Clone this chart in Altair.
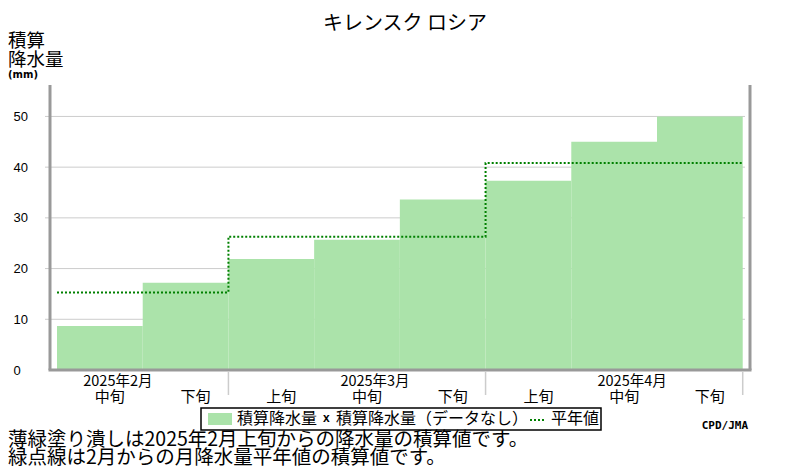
import altair as alt
import pandas as pd

# ---- data ----
title_text = "キレンスク ロシア"
decades = ["中旬", "下旬", "上旬", "中旬", "下旬", "上旬", "中旬", "下旬"]
months = ["2025年2月", "2025年3月", "2025年4月"]
month_pos = [0, 3, 6]
month_bounds = [2, 5, 8]
accum = [8.7, 17.2, 21.9, 25.7, 33.6, 37.3, 45.0, 50.0]
normal_x = [0, 2, 5, 8]
normal_y = [15.3, 26.3, 40.8, 40.8]
y_ticks = [0, 10, 20, 30, 40, 50]
grid_vals = [10, 20, 30, 40, 50]
note1 = "薄緑塗り潰しは2025年2月上旬からの降水量の積算値です。"
note2 = "緑点線は2月からの月降水量平年値の積算値です。"

FONT = "Noto Sans CJK JP"
W, H = 700, 285
xs = alt.Scale(domain=[-0.0817, 8.085], nice=False, zero=False)
ys = alt.Scale(domain=[0, 56.2], nice=False, zero=False)
yaxis = alt.Axis(values=y_ticks, grid=False, domain=False, ticks=False,
                 labelAlign="left", labelBaseline="middle", labelPadding=37,
                 labelFont="Liberation Sans", labelFontSize=13, labelColor="black", title=None)
one = pd.DataFrame({"a": [0]})

grid = alt.Chart(pd.DataFrame({"g": grid_vals})).mark_rule(color="#cccccc", strokeWidth=1).encode(
    y=alt.Y("g:Q", scale=ys, axis=yaxis), x=alt.value(-5), x2=alt.value(695))

bars_df = pd.DataFrame({"i0": list(range(8)), "i1": [i + 1 for i in range(8)], "v": accum, "b": [0] * 8})
bars = alt.Chart(bars_df).mark_rect(color="#abe3aa").encode(
    x=alt.X("i0:Q", scale=xs, axis=None), x2="i1",
    y=alt.Y("v:Q", scale=ys, axis=yaxis), y2="b")

norm = alt.Chart(pd.DataFrame({"x": normal_x, "y": normal_y})).mark_line(
    interpolate="step-after", color="#008000", strokeWidth=2, strokeDash=[2, 2]).encode(
    x=alt.X("x:Q", scale=xs, axis=None), y=alt.Y("y:Q", scale=ys, axis=yaxis))

fr = dict(color="#999999", strokeWidth=3)
frame_l = alt.Chart(one).mark_rule(**fr).encode(x=alt.value(0), y=alt.value(0), y2=alt.value(H))
frame_r = alt.Chart(one).mark_rule(**fr).encode(x=alt.value(W), y=alt.value(0), y2=alt.value(H))
frame_b = alt.Chart(one).mark_rule(**fr).encode(x=alt.value(-1.5), x2=alt.value(W + 1.5), y=alt.value(H))

dividers = alt.Chart(pd.DataFrame({"b": month_bounds})).mark_rule(color="#cccccc", strokeWidth=1.5).encode(
    x=alt.X("b:Q", scale=xs, axis=None), y=alt.value(H + 2), y2=alt.value(H + 25))

dec_df = pd.DataFrame({"p": [i + 0.5 for i in range(8)], "t": decades})
dec_lab = alt.Chart(dec_df).mark_text(font=FONT, fontSize=15, dx=10, baseline="middle", color="black").encode(
    x=alt.X("p:Q", scale=xs, axis=None), y=alt.value(H + 27), text="t:N")
mon_df = pd.DataFrame({"p": [p + 0.5 for p in month_pos], "t": months})
mon_lab = alt.Chart(mon_df).mark_text(font=FONT, fontSize=14.5, dx=18, baseline="middle", color="black").encode(
    x=alt.X("p:Q", scale=xs, axis=None), y=alt.value(H + 12), text="t:N")

def txt(s, x, y, size, align="left", weight="normal", font=FONT):
    return alt.Chart(one).mark_text(font=font, fontSize=size, align=align, baseline="middle",
                                    fontWeight=weight, color="black").encode(
        x=alt.value(x), y=alt.value(y), text=alt.value(s))

title = txt(title_text, 355, -61, 20, align="center")
ylab1 = txt("積算", -42, -44, 18.5)
ylab2 = txt("降水量", -42, -25, 18.5)
ylab3 = txt("(mm)", -42, -10, 10, weight="bold", font="DejaVu Sans")

leg_box = alt.Chart(one).mark_rect(fill="white", stroke="black", strokeWidth=1.5).encode(
    x=alt.value(151), x2=alt.value(551), y=alt.value(323), y2=alt.value(345))
leg_sw = alt.Chart(one).mark_rect(color="#abe3aa").encode(
    x=alt.value(158), x2=alt.value(182), y=alt.value(328), y2=alt.value(340))
leg_t1 = txt("積算降水量", 187, 334, 16)
leg_x = txt("x", 273, 333, 12, weight="bold", font="Liberation Sans")
leg_t2 = txt("積算降水量（データなし）", 286, 334, 16)
leg_dot = alt.Chart(one).mark_rule(color="#008000", strokeWidth=2, strokeDash=[2, 2]).encode(
    x=alt.value(480), x2=alt.value(494), y=alt.value(335))
leg_t3 = txt("平年値", 501, 334, 16)

cpd = txt("CPD/JMA", 698, 341, 11, align="right", weight="bold", font="DejaVu Sans Mono")
n1 = txt(note1, -42, 355, 19.5)
n2 = txt(note2, -42, 373, 19.5)

chart = alt.layer(
    grid, bars, norm, frame_l, frame_r, frame_b, dividers, dec_lab, mon_lab,
    title, ylab1, ylab2, ylab3, leg_box, leg_sw, leg_t1, leg_x, leg_t2, leg_dot, leg_t3,
    cpd, n1, n2
).properties(
    width=W, height=H,
    autosize=alt.AutoSizeParams(type="none"),
    padding={"left": 42, "top": 77, "right": 30, "bottom": 100}
).configure_view(stroke=None)

chart.save("out.html", embed_options={"renderer": "svg", "actions": False})
